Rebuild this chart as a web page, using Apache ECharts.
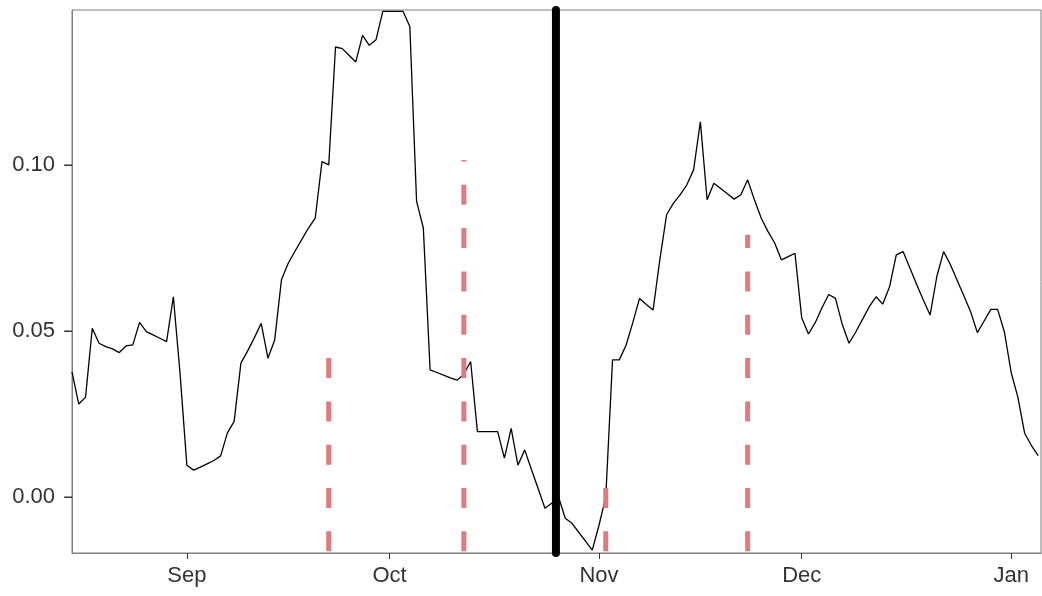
<!DOCTYPE html>
<html><head><meta charset="utf-8">
<script src="https://cdn.jsdelivr.net/npm/echarts@6/dist/echarts.min.js"></script>
<style>html,body{margin:0;padding:0;background:#fff}#c{width:1042px;height:596px}</style>
</head><body><div id="c"></div>
<script>
// ---- data ----
const startDate = [2019, 7, 15]; // Aug 15, first daily observation
const values = [
  0.0377, 0.0280, 0.0300, 0.0508, 0.0463, 0.0453, 0.0446, 0.0435, 0.0455, 0.0458,
  0.0526, 0.0498, 0.0488, 0.0478, 0.0468, 0.0603, 0.0370, 0.0096, 0.0081, 0.0090,
  0.0100, 0.0110, 0.0124, 0.0193, 0.0228, 0.0403, 0.0440, 0.0480, 0.0523, 0.0418,
  0.0473, 0.0654, 0.0704, 0.0740, 0.0775, 0.0810, 0.0840, 0.1010, 0.1000, 0.1355,
  0.1350, 0.1330, 0.1310, 0.1390, 0.1360, 0.1377, 0.1462, 0.1462, 0.1462, 0.1462,
  0.1417, 0.0890, 0.0810, 0.0383, 0.0375, 0.0367, 0.0359, 0.0352, 0.0370, 0.0408,
  0.0197, 0.0197, 0.0197, 0.0197, 0.0117, 0.0207, 0.0096, 0.0142, 0.0083, 0.0025,
  -0.0034, -0.0019, 0.0001, -0.0064, -0.0079, -0.0106, -0.0133, -0.0160, -0.0085, 0.0000,
  0.0413, 0.0413, 0.0457, 0.0525, 0.0598, 0.0580, 0.0563, 0.0714, 0.0850, 0.0884,
  0.0910, 0.0940, 0.0985, 0.1130, 0.0895, 0.0945, 0.0929, 0.0913, 0.0897, 0.0910,
  0.0955, 0.0895, 0.0840, 0.0800, 0.0765, 0.0714, 0.0724, 0.0734, 0.0540, 0.0491,
  0.0525, 0.0570, 0.0610, 0.0598, 0.0520, 0.0463, 0.0497, 0.0535, 0.0573, 0.0603,
  0.0581, 0.0633, 0.0729, 0.0739, 0.0690, 0.0641, 0.0593, 0.0548, 0.0664, 0.0739,
  0.0700, 0.0653, 0.0606, 0.0558, 0.0495, 0.0530, 0.0565, 0.0565, 0.0497, 0.0375,
  0.0300, 0.0192, 0.0155, 0.0125
];
const monthTicks = [[2019, 8, 1], [2019, 9, 1], [2019, 10, 1], [2019, 11, 1], [2020, 0, 1]];
const monthLabels = ['Sep', 'Oct', 'Nov', 'Dec', 'Jan'];
const yTicks = [0, 0.05, 0.10];
const yTickLabels = ['0.00', '0.05', '0.10'];
const eventDates = [[2019, 8, 22], [2019, 9, 12], [2019, 10, 2], [2019, 10, 23]];
const eventTops = [0.0419, 0.1015, 0.0032, 0.0790];
const cutoffDate = [2019, 9, 25, 15]; // thick vertical line
const yRange = [-0.01685, 0.14664];
const xEndDate = [2020, 0, 5, 10];

// ---- build ----
const ts = a => new Date(a[0], a[1], a[2], a[3] || 0).getTime();
const lineData = values.map((v, i) => [new Date(startDate[0], startDate[1], startDate[2] + i).getTime(), v]);
const tickTs = monthTicks.map(ts);
const xMin = lineData[0][0];
const series = [{
  type: 'line', data: lineData, showSymbol: false, symbol: 'none', z: 3,
  lineStyle: { color: '#000', width: 1.3 }
}];
eventDates.forEach((d, k) => {
  series.push({
    type: 'line', symbol: 'none', z: 4,
    data: [[ts(d), yRange[0]], [ts(d), eventTops[k]]],
    lineStyle: { color: '#DF7A7E', width: 5, type: [20, 23.33], dashOffset: 41.7, cap: 'butt' }
  });
});
series.push({
  type: 'line', symbol: 'none', z: 5, clip: false,
  data: [[ts(cutoffDate), yRange[0]], [ts(cutoffDate), yRange[1]]],
  lineStyle: { color: '#000', width: 8, cap: 'round' }
});
// y-axis tick marks, placed through the axis scale
series.push({
  type: 'custom', coordinateSystem: 'cartesian2d', silent: true, clip: false, z: 10,
  encode: { x: 0, y: 1 },
  data: yTicks.map(v => [xMin, v]),
  renderItem: (params, api) => {
    const p = api.coord([api.value(0), api.value(1)]);
    return {
      type: 'rect', z2: 100,
      shape: { x: p[0] - 8, y: Math.round(p[1]) - 0.5, width: 8, height: 1.3 },
      style: { fill: '#333' }
    };
  }
});

const chart = echarts.init(document.getElementById('c'), null, { renderer: 'canvas' });
chart.setOption({
  animation: false,
  backgroundColor: '#fff',
  grid: { left: 72, right: 1, top: 10, bottom: 43, show: true, borderColor: '#7f7f7f', borderWidth: 1, containLabel: false },
  xAxis: {
    type: 'value', min: xMin, max: ts(xEndDate),
    axisLine: { show: true, onZero: false, lineStyle: { color: '#7f7f7f', width: 1 } },
    splitLine: { show: false },
    axisTick: { show: true, customValues: tickTs, length: 6, lineStyle: { color: '#333', width: 1 } },
    axisLabel: {
      customValues: tickTs, margin: 12, fontSize: 22, color: '#333', fontFamily: 'Liberation Sans, Arial',
      formatter: v => { const i = tickTs.indexOf(v); return i >= 0 ? monthLabels[i] : ''; }
    }
  },
  yAxis: {
    type: 'value', min: yRange[0], max: yRange[1],
    axisLine: { show: true, onZero: false, lineStyle: { color: '#7f7f7f', width: 1 } },
    splitLine: { show: false },
    axisTick: { show: true, customValues: yTicks, length: 7, lineStyle: { color: '#333', width: 1 } },
    axisLabel: {
      customValues: yTicks, margin: 17, fontSize: 22, color: '#333', fontFamily: 'Liberation Sans, Arial',
      formatter: v => { const i = yTicks.findIndex(t => Math.abs(t - v) < 1e-9); return i >= 0 ? yTickLabels[i] : ''; }
    }
  },
  series: series
});
</script></body></html>
